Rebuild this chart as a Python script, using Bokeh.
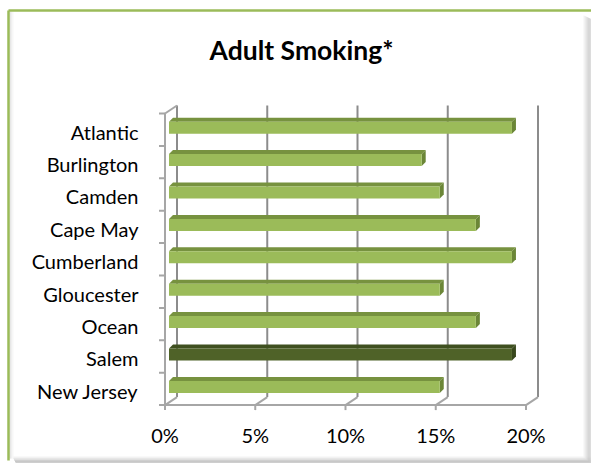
from bokeh.plotting import figure
from bokeh.models import Range1d, ColumnDataSource
from bokeh.core.properties import value
from bokeh.embed import file_html
from bokeh.resources import INLINE

# --- data -------------------------------------------------------------
categories = ["Atlantic", "Burlington", "Camden", "Cape May", "Cumberland",
              "Gloucester", "Ocean", "Salem", "New Jersey"]
smoking_pct = [19, 14, 15, 17, 19, 15, 17, 19, 15]
highlight = "Salem"
pct_ticks = [0, 5, 10, 15, 20]
pct_tick_labels = ["0%", "5%", "10%", "15%", "20%"]
title_text = "Adult Smoking*"

# --- canvas geometry ----------------------------------------------------
W, H = 591, 463
X0_PX, Y0_PX = 164.5, 404.6        # screen position of 0% on the front floor edge
PX_PER_PCT, PX_PER_CAT = 18.05, 32.4


def X(px):
    return (px - X0_PX) / PX_PER_PCT


def Y(py):
    return (Y0_PX - py) / PX_PER_CAT


FONT = value("Lato")
GRID = "#8c8c8c"
WALL = "#a6a6a6"

p = figure(width=W, height=H,
           x_range=Range1d(X(0), X(W)), y_range=Range1d(Y(H), Y(0)),
           x_axis_type=None, y_axis_type=None, min_border=0,
           toolbar_location=None, output_backend="svg",
           outline_line_color=None, background_fill_color="white",
           border_fill_color="white")

n = len(categories)
centers = [n - 0.5 - i for i in range(n)]

# 3D wall depth and bar depth (in data units)
wdx, wdy = 12 / PX_PER_PCT, 8 / PX_PER_CAT
bdx, bdy = 4 / PX_PER_PCT, 2 / PX_PER_CAT     # bar offset from front plane
ddx, ddy = 4 / PX_PER_PCT, 4 / PX_PER_CAT     # bar depth
half_h = 6 / PX_PER_CAT

# --- chart box: green edge with soft shaded right/bottom ------------------
p.quad(left=[X(8)], right=[X(W)], top=[Y(10)], bottom=[Y(H)],
       fill_color="white", line_color=None)
for k, c in enumerate(["#f4f4f4", "#ececec", "#e2e2e2", "#d8d8d8",
                       "#cfcfcf", "#c8c8c8", "#cccccc", "#d4d4d4"]):
    p.quad(left=[X(583 + k)], right=[X(584 + k)], top=[Y(15 + k * 0.5)],
           bottom=[Y(H)], fill_color=c, line_color=None)
    p.quad(left=[X(12 + k * 0.5)], right=[X(W)], top=[Y(456 + k * 0.9)],
           bottom=[Y(457 + k * 0.9)], fill_color=c, line_color=None)
for k, c in enumerate(["#d6d6d6", "#e4e4e4", "#efefef", "#f7f7f7"]):
    p.quad(left=[X(9 + k)], right=[X(10 + k)], top=[Y(11)], bottom=[Y(458)],
           fill_color=c, line_color=None)
p.segment(x0=[X(8), X(8)], y0=[Y(10), Y(10)], x1=[X(W), X(8)], y1=[Y(10), Y(460)],
          line_color="#9bbb59", line_width=2.5)

# --- walls, floor and gridlines -------------------------------------------
top_val = pct_ticks[-1]
p.segment(x0=[t + wdx for t in pct_ticks], y0=[wdy] * len(pct_ticks),
          x1=[t + wdx for t in pct_ticks], y1=[n + wdy] * len(pct_ticks),
          line_color=GRID, line_width=2)
p.segment(x0=pct_ticks, y0=[0] * len(pct_ticks),
          x1=[t + wdx for t in pct_ticks], y1=[wdy] * len(pct_ticks),
          line_color=WALL, line_width=2)
p.segment(x0=[0, 0, 0], y0=[0, 0, n], x1=[top_val, 0, wdx], y1=[0, n, n + wdy],
          line_color=WALL, line_width=2)
# tick marks: below the floor at each percentage, left of the wall between categories
p.segment(x0=pct_ticks, y0=[0] * len(pct_ticks), x1=pct_ticks,
          y1=[-5 / PX_PER_CAT] * len(pct_ticks), line_color=WALL, line_width=2)
p.segment(x0=[-6 / PX_PER_PCT] * (n + 1), y0=list(range(n + 1)),
          x1=[0] * (n + 1), y1=list(range(n + 1)), line_color=WALL, line_width=2)

# --- 3D bars ----------------------------------------------------------------
front_xs, front_ys, top_xs, top_ys, side_xs, side_ys = [], [], [], [], [], []
front_c, top_c, side_c = [], [], []
for cat, v, c in zip(categories, smoking_pct, centers):
    x0, x1 = bdx, v + bdx
    y0, y1 = c + bdy - half_h, c + bdy + half_h
    front_xs.append([x0, x1, x1, x0]); front_ys.append([y0, y0, y1, y1])
    top_xs.append([x0, x1, x1 + ddx, x0 + ddx]); top_ys.append([y1, y1, y1 + ddy, y1 + ddy])
    side_xs.append([x1, x1 + ddx, x1 + ddx, x1]); side_ys.append([y0, y0 + ddy, y1 + ddy, y1])
    if cat == highlight:
        front_c.append("#4f6228"); top_c.append("#3f5020"); side_c.append("#38471c")
    else:
        front_c.append("#9bbb59"); top_c.append("#77923f"); side_c.append("#6b8637")

p.patches(xs="xs", ys="ys", fill_color="c", line_color=None,
          source=ColumnDataSource(dict(xs=top_xs, ys=top_ys, c=top_c)))
p.patches(xs="xs", ys="ys", fill_color="c", line_color=None,
          source=ColumnDataSource(dict(xs=side_xs, ys=side_ys, c=side_c)))
p.patches(xs="xs", ys="ys", fill_color="c", line_color=None,
          source=ColumnDataSource(dict(xs=front_xs, ys=front_ys, c=front_c)))

# --- texts --------------------------------------------------------------------
p.text(x=[X(138)] * n, y=[c - 1.8 / PX_PER_CAT for c in centers], text=categories,
       text_font=FONT, text_font_size="20px", text_color="#000000",
       text_align="right", text_baseline="middle")
p.text(x=pct_ticks, y=[Y(434.5)] * len(pct_ticks), text=pct_tick_labels,
       text_font=FONT, text_font_size="20px", text_color="#000000",
       text_align="center", text_baseline="middle")
p.text(x=[X(301)], y=[Y(49)], text=[title_text], text_font=FONT,
       text_font_style="bold", text_font_size="26.5px", text_color="#000000",
       text_align="center", text_baseline="middle")

open("out.html", "w").write(file_html(p, INLINE))
